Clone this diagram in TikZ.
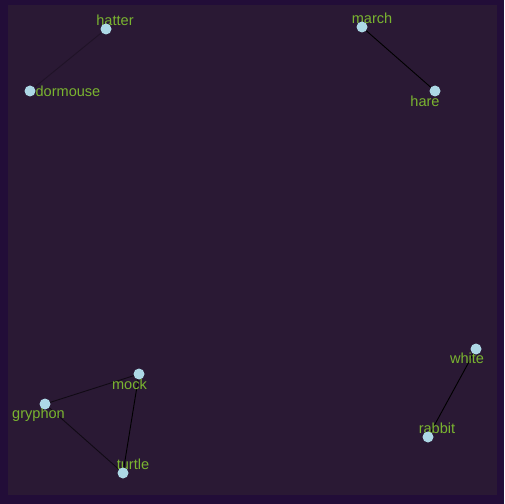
\documentclass[tikz,border=0pt]{standalone}
\usepackage{fontspec}
\setmainfont{Liberation Sans}
\definecolor{outerbg}{RGB}{34,13,56}
\definecolor{innerbg}{RGB}{42,25,52}
\definecolor{lblcol}{RGB}{122,180,48}
\definecolor{nodecol}{RGB}{173,216,230}
\tikzset{
  vtx/.style={circle,fill=nodecol,draw=none,minimum size=11bp,inner sep=0pt},
  lbl/.style={text=lblcol,inner sep=0pt,font=\fontsize{14.6}{16}\selectfont},
  edge/.style={draw=black,line width=0.9bp},
  faint/.style={edge,draw opacity=0.25},
  mid/.style={edge,draw opacity=0.6}
}
\begin{document}
\begin{tikzpicture}[x=1bp,y=-1bp]
\fill[outerbg] (0,0) rectangle (504,504);
\fill[innerbg] (8,5) rectangle (497,495);
\useasboundingbox (0,0) rectangle (504,504);
% vertex positions
\coordinate (hatter) at (106,29);
\coordinate (dormouse) at (30,91);
\coordinate (march) at (362,27);
\coordinate (hare) at (435,91);
\coordinate (mock) at (139,374);
\coordinate (gryphon) at (45,404);
\coordinate (turtle) at (123,473);
\coordinate (white) at (476,349);
\coordinate (rabbit) at (428,437);
% edges
\draw[faint] (hatter) -- (dormouse);
\draw[edge] (march) -- (hare);
\draw[mid] (gryphon) -- (mock);
\draw[edge] (mock) -- (turtle);
\draw[mid] (gryphon) -- (turtle);
\draw[edge] (white) -- (rabbit);
% labels
\node[lbl] (hatterL) at (115,20) {hatter};
\node[lbl] (dormouseL) at (68,91) {dormouse};
\node[lbl] (marchL) at (372,18) {march};
\node[lbl] (hareL) at (425,101) {hare};
\node[lbl] (mockL) at (129.5,384) {mock};
\node[lbl] (gryphonL) at (38.5,415) {gryphon};
\node[lbl] (turtleL) at (133,464) {turtle};
\node[lbl] (whiteL) at (467,358.5) {white};
\node[lbl] (rabbitL) at (437,428.5) {rabbit};
% vertices on top
\foreach \n in {hatter,dormouse,march,hare,mock,gryphon,turtle,white,rabbit}
  \node[vtx] (\n V) at (\n) {};
\end{tikzpicture}
\end{document}
